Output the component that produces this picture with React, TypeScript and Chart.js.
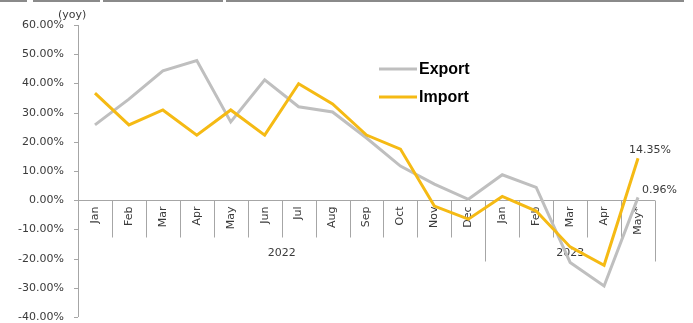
import { useEffect, useRef } from "react";
import { Chart, registerables } from "chart.js";

Chart.register(...registerables);

const months = ["Jan", "Feb", "Mar", "Apr", "May", "Jun", "Jul", "Aug", "Sep", "Oct", "Nov", "Dec", "Jan", "Feb", "Mar", "Apr", "May*"];
const yearLabels = ["2022", "2023"];
const yearSpans = [12, 5];
const exportValues = [25.8, 34.6, 44.3, 47.8, 26.8, 41.2, 32.0, 30.2, 21.3, 11.7, 5.5, 0.3, 8.7, 4.4, -21.3, -29.4, 0.96];
const importValues = [36.7, 25.8, 30.9, 22.3, 30.9, 22.3, 39.9, 33.0, 22.3, 17.5, -2.0, -6.5, 1.3, -3.7, -16.0, -22.3, 14.35];
const seriesNames = ["Export", "Import"];
const unitLabel = "(yoy)";
const yMin = -40;
const yMax = 60;
const yStep = 10;

const EXPORT_COLOR = "#BFBFBF";
const IMPORT_COLOR = "#F5BA14";
const AXIS_COLOR = "#A6A6A6";
const TEXT_COLOR = "#3a3a3a";
const FONT = "DejaVu Sans";

const axesPlugin = {
  id: "excelAxes",
  beforeDatasetsDraw(chart: any) {
    const ctx = chart.ctx;
    const x = chart.scales.x;
    const y = chart.scales.y;
    const area = chart.chartArea;
    const y0 = y.getPixelForValue(0);
    const n = months.length;
    const band = (area.right - area.left) / n;
    ctx.save();
    ctx.strokeStyle = AXIS_COLOR;
    ctx.lineWidth = 1;
    // y axis line
    ctx.beginPath();
    ctx.moveTo(area.left + 0.5, area.top);
    ctx.lineTo(area.left + 0.5, area.bottom);
    ctx.stroke();
    // y ticks + labels
    ctx.font = `11px "${FONT}"`;
    ctx.fillStyle = TEXT_COLOR;
    ctx.textAlign = "right";
    ctx.textBaseline = "middle";
    y.ticks.forEach((t: any) => {
      const py = Math.round(y.getPixelForValue(t.value)) + 0.5;
      ctx.beginPath();
      ctx.moveTo(area.left - 4, py);
      ctx.lineTo(area.left, py);
      ctx.stroke();
      ctx.fillText(t.value.toFixed(2) + "%", area.left - 14, py);
    });
    // x axis line at zero
    const zy = Math.round(y0) + 0.5;
    ctx.beginPath();
    ctx.moveTo(area.left, zy);
    ctx.lineTo(area.right, zy);
    ctx.stroke();
    // separators
    const tickLen = 37;
    const groupLen = 61;
    const groupBounds = new Set<number>();
    let acc = 0;
    yearSpans.forEach((s) => {
      acc += s;
      groupBounds.add(acc);
    });
    for (let i = 1; i <= n; i++) {
      const px = Math.round(x.getPixelForValue(i - 1) + band / 2) + 0.5;
      const len = groupBounds.has(i) ? groupLen : tickLen;
      ctx.beginPath();
      ctx.moveTo(px, zy);
      ctx.lineTo(px, zy + len);
      ctx.stroke();
    }
    // month labels
    ctx.fillStyle = TEXT_COLOR;
    ctx.textAlign = "right";
    ctx.textBaseline = "middle";
    months.forEach((m, i) => {
      const px = x.getPixelForValue(i);
      ctx.save();
      ctx.translate(px, zy + 6);
      ctx.rotate(-Math.PI / 2);
      ctx.fillText(m, 0, 0);
      ctx.restore();
    });
    // year labels
    ctx.textAlign = "center";
    let start = 0;
    yearLabels.forEach((lab, gi) => {
      const end = start + yearSpans[gi];
      const left = x.getPixelForValue(start) - band / 2;
      const right = x.getPixelForValue(end - 1) + band / 2;
      ctx.fillText(lab, (left + right) / 2, zy + 53);
      start = end;
    });
    // unit label
    ctx.textAlign = "left";
    ctx.fillText(unitLabel, area.left - 20, area.top - 10);
    ctx.restore();
  },
  afterDraw(chart: any) {
    const ctx = chart.ctx;
    const x = chart.scales.x;
    const y = chart.scales.y;
    const area = chart.chartArea;
    ctx.save();
    // legend
    const legendColors = [EXPORT_COLOR, IMPORT_COLOR];
    const lx = area.left + 301;
    seriesNames.forEach((name, i) => {
      const ly = area.top + 44 + i * 28;
      ctx.strokeStyle = legendColors[i];
      ctx.lineWidth = 3;
      ctx.beginPath();
      ctx.moveTo(lx, ly);
      ctx.lineTo(lx + 38, ly);
      ctx.stroke();
      ctx.fillStyle = "#000000";
      ctx.font = `bold 16px "Liberation Sans"`;
      ctx.textAlign = "left";
      ctx.textBaseline = "middle";
      ctx.fillText(name, lx + 40, ly + 1);
    });
    // data labels on last points
    const last = months.length - 1;
    ctx.font = `11px "${FONT}"`;
    ctx.fillStyle = TEXT_COLOR;
    ctx.textBaseline = "middle";
    const ix = x.getPixelForValue(last);
    const iy = y.getPixelForValue(importValues[last]);
    ctx.textAlign = "center";
    ctx.fillText(importValues[last].toFixed(2) + "%", ix + 12, iy - 8);
    const ey = y.getPixelForValue(exportValues[last]);
    ctx.textAlign = "left";
    ctx.fillText(exportValues[last].toFixed(2) + "%", ix + 4, ey - 7);
    ctx.restore();
  },
};

export default function App() {
  const ref = useRef<HTMLCanvasElement | null>(null);
  useEffect(() => {
    if (!ref.current) return;
    const chart = new Chart(ref.current, {
      type: "line",
      data: {
        labels: months,
        datasets: [
          {
            label: seriesNames[0],
            data: exportValues,
            borderColor: EXPORT_COLOR,
            backgroundColor: EXPORT_COLOR,
            borderWidth: 3,
            pointRadius: 0,
            tension: 0,
            order: 1,
          },
          {
            label: seriesNames[1],
            data: importValues,
            borderColor: IMPORT_COLOR,
            backgroundColor: IMPORT_COLOR,
            borderWidth: 3,
            pointRadius: 0,
            tension: 0,
            order: 0,
          },
        ],
      },
      options: {
        responsive: false,
        animation: false,
        devicePixelRatio: 1,
        layout: { padding: { left: 78, right: 38, top: 25, bottom: 6 } },
        scales: {
          x: { type: "category", offset: true, display: false },
          y: { type: "linear", min: yMin, max: yMax, ticks: { stepSize: yStep }, display: false },
        },
        plugins: { legend: { display: false }, tooltip: { enabled: false } },
      },
      plugins: [axesPlugin],
    });
    return () => chart.destroy();
  }, []);
  return (
    <div style={{ position: "fixed", left: 0, top: 0, width: 693, height: 323, background: "#fff" }}>
      <div style={{ position: "absolute", left: 0, top: 0, width: 27, height: 2, background: "#8a8a8a" }} />
      <div style={{ position: "absolute", left: 33, top: 0, width: 67, height: 2, background: "#8a8a8a" }} />
      <div style={{ position: "absolute", left: 103, top: 0, width: 120, height: 2, background: "#8a8a8a" }} />
      <div style={{ position: "absolute", left: 226, top: 0, width: 458, height: 2, background: "#8a8a8a" }} />
      <canvas ref={ref} width={693} height={323} style={{ display: "block", width: 693, height: 323 }} />
    </div>
  );
}
